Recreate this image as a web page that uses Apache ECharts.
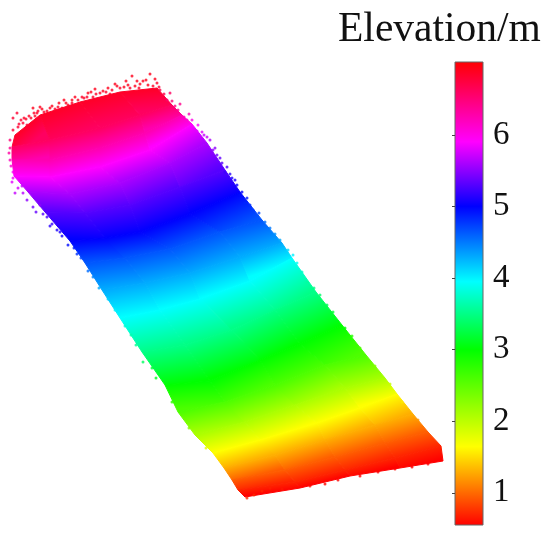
<!DOCTYPE html>
<html>
<head>
<meta charset="utf-8">
<style>
  html, body { margin: 0; padding: 0; background: #fff; }
  #main { width: 550px; height: 535px; filter: blur(0.6px); }
</style>
</head>
<body>
<div id="main"></div>
<script src="https://cdn.jsdelivr.net/npm/echarts@6/dist/echarts.min.js"></script>
<script>
// elevation of each contour read across the strip, top of the strip first
var levels = [6.85, 6.6, 6.25, 5.9, 5.6, 5.3, 5.0, 4.65, 4.3, 3.95, 3.5, 3.0, 2.6, 2.1, 1.65, 1.3, 0.95, 0.7, 0.55]
// contour positions, five stations from left edge to right edge
var stationA = [[15,135],[12,147],[12,160],[14,176],[28,192],[45,212],[70,241],[85,263],[102,290],[120,318],[142,352],[165,385],[178,412],[195,435],[213,453],[224,468],[232,480],[238,490],[245,497]]
var stationB = [[40,115],[50,140],[50,160],[50,177],[70,194],[85,213],[105,238],[125,258],[145,283],[160,310],[185,345],[210,381],[225,402],[245,422],[260,440],[275,455],[285,470],[295,482],[300,488]]
var stationC = [[80,102],[100,128],[100,148],[100,167],[120,183],[130,205],[140,232],[170,249],[190,273],[200,299],[232,330],[260,360],[275,385],[295,405],[317,423],[325,440],[335,457],[345,470],[350,476]]
var stationD = [[120,92],[140,115],[145,133],[150,150],[170,163],[180,187],[190,214],[220,232],[240,257],[250,281],[275,310],[300,344],[325,365],[345,388],[360,408],[375,425],[385,443],[395,458],[400,468]]
var stationE = [[157,88],[172,105],[182,115],[192,124],[207,143],[225,170],[240,192],[262,220],[282,243],[292,258],[316,292],[342,325],[366,355],[385,378],[397,394],[413,414],[428,432],[441,446],[443,461]]

// loose points along the rim: x, y, elevation
var rimTop = [[132,76,6.9],[150,74,6.9],[137,81,6.9],[143,81,6.9],[126,81,6.9],[157,83,6.85],[117,86,6.9],[108,88,6.9],[124,87,6.9],[135,86,6.9],[148,85,6.9],[95,89,6.9],[88,93,6.9],[100,93,6.85],[82,97,6.85],[72,100,6.9],[66,103,6.9],[59,103,6.9],[62,108,6.85],[40,107,6.9],[50,108,6.9],[33,108,6.9],[44,112,6.85],[37,113,6.85],[29,116,6.85],[24,118,6.85],[17,113,6.8],[13,118,6.8],[23,123,6.8],[13,130,6.8],[18,127,6.8],[27,125,6.8],
  [19,124,6.8],[21,120,6.8],[26,119,6.85],[31,118,6.85],[34,113,6.85],[38,111,6.85],[42,109,6.9],[47,111,6.85],[52,106,6.9],[55,109,6.85],[58,107,6.85],[64,100,6.9],[68,105,6.85],[75,97,6.9],[78,100,6.85],[84,98,6.85],[87,97,6.85],[91,92,6.9],[96,94,6.85],[103,91,6.9],[106,92,6.85],[112,90,6.85],[115,84,6.9],[120,88,6.85],[128,85,6.9],[130,88,6.85],[140,84,6.9],[146,80,6.9],[153,86,6.85],[155,79,6.9],[159,87,6.8],[35,116,6.85],[48,114,6.85],[72,103,6.85],[93,97,6.85],[110,94,6.85],[139,88,6.85]]
var rimRight = [[160,90,6.7],[164,94,6.7],[170,93,6.6],[172,101,6.5],[180,104,6.4],[178,110,6.4],[189,114,6.2],[187,120,6.1],[198,125,5.9],[197,131,5.8],[204,135,5.7],[210,140,5.6],[213,150,5.5],[217,155,5.4],[222,163,5.3],[227,167,5.25],[232,178,5.1],[237,185,5.05],[242,192,5],[247,198,4.9],[253,210,4.75],[259,213,4.7],[270,228,4.5],[280,240,4.3],[297,263,3.9],[307,282,3.6],[320,295,3.4],[333,312,3.2],[352,336,2.8],
  [167,100,6.55],[175,106,6.45],[184,117,6.2],[192,120,6.0],[202,132,5.8],[207,137,5.7],[215,148,5.5],[220,158,5.35],[225,172,5.2],[230,174,5.15],[235,180,5.1],[240,195,4.95],[245,203,4.85],[250,205,4.8],[265,222,4.55],[275,234,4.4],[288,250,4.1],[293,255,4.0],[302,272,3.75],[314,288,3.5],[327,305,3.3],[345,328,3.0],[360,348,2.6],[375,366,2.3],[390,384,1.95],[402,402,1.55],[418,420,1.2]]
var rimLeft = [[10,140,6.5],[9,153,6.3],[11,166,6.1],[13,172,5.95],[12,182,5.8],[15,193,5.7],[23,193,5.65],[22,186,5.7],[33,207,5.4],[40,205,5.5],[47,217,5.25],[52,224,5.2],[57,230,5.1],[62,236,5.05],[68,245,4.95],[74,248,4.9],[81,258,4.7],[93,277,4.45],[108,299,4.15],[125,326,3.8],[136,345,3.55],[143,362,3.35],[156,378,3.1],
  [10,148,6.4],[10,160,6.2],[13,178,5.85],[18,188,5.75],[27,200,5.5],[36,212,5.35],[43,214,5.3],[50,226,5.15],[60,232,5.1],[77,254,4.8],[88,271,4.55],[99,288,4.3],[115,310,4.0],[131,335,3.65],[152,368,3.2],[172,402,2.75],[189,428,2.3],[206,448,1.8]]
var rimBottom = [[247,498,0.75],[254,495,0.72],[262,491,0.7],[270,488,0.68],[282,489,0.65],[291,487,0.62],[310,486,0.6],[325,484,0.58],[338,480,0.56],[360,476,0.56],[378,472,0.55],[395,469,0.55],[412,467,0.55],[428,464,0.55]]

// colour stops of the scale: elevation and colour
var stopElevations = [0.55, 1.65, 3.0, 3.95, 5.0, 5.9, 7.02]
var stopColors = ['#ff0000', '#ffff00', '#00ff00', '#00ffff', '#0000ff', '#ff00ff', '#ff0000']

var scaleMin = 0.55
var scaleMax = 7.02
var tickValues = [1, 2, 3, 4, 5, 6]
var titleText = 'Elevation/m'

function hexToRgb(hex) {
  return [parseInt(hex.slice(1, 3), 16), parseInt(hex.slice(3, 5), 16), parseInt(hex.slice(5, 7), 16)]
}

function elevColor(v) {
  for (var i = 0; i < stopElevations.length - 1; i++) {
    if (v <= stopElevations[i + 1] || i === stopElevations.length - 2) {
      var t = (v - stopElevations[i]) / (stopElevations[i + 1] - stopElevations[i])
      t = Math.max(0, Math.min(1, t))
      var a = hexToRgb(stopColors[i])
      var b = hexToRgb(stopColors[i + 1])
      return 'rgb(' + Math.round(a[0] + (b[0] - a[0]) * t) + ',' + Math.round(a[1] + (b[1] - a[1]) * t) + ',' + Math.round(a[2] + (b[2] - a[2]) * t) + ')'
    }
  }
}

// one quad per strip and station gap
var stations = [stationA, stationB, stationC, stationD, stationE]
var quads = []
for (var r = 0; r < levels.length - 1; r++) {
  for (var c = 0; c < stations.length - 1; c++) {
    var p0 = stations[c][r]
    var p1 = stations[c + 1][r]
    var p2 = stations[c + 1][r + 1]
    var p3 = stations[c][r + 1]
    quads.push([p0[0], p0[1], p1[0], p1[1], p2[0], p2[1], p3[0], p3[1], levels[r], levels[r + 1]])
  }
}

function renderQuad(params, api) {
  var p0 = api.coord([api.value(0), api.value(1)])
  var p1 = api.coord([api.value(2), api.value(3)])
  var p2 = api.coord([api.value(4), api.value(5)])
  var p3 = api.coord([api.value(6), api.value(7)])
  // gradient runs square to the upper contour of the quad
  var mx = (p0[0] + p1[0]) / 2
  var my = (p0[1] + p1[1]) / 2
  var qx = (p2[0] + p3[0]) / 2
  var qy = (p2[1] + p3[1]) / 2
  var ex = p1[0] - p0[0]
  var ey = p1[1] - p0[1]
  var len = Math.sqrt(ex * ex + ey * ey)
  var nx = -ey / len
  var ny = ex / len
  var d = (qx - mx) * nx + (qy - my) * ny
  var fill = new echarts.graphic.LinearGradient(mx, my, mx + nx * d, my + ny * d, [
    { offset: 0, color: elevColor(api.value(8)) },
    { offset: 1, color: elevColor(api.value(9)) }
  ], true)
  return {
    type: 'polygon',
    shape: { points: [p0, p1, p2, p3] },
    style: { fill: fill, stroke: fill, lineWidth: 1 }
  }
}

function renderBar(params, api) {
  var top = api.coord([0, api.value(1)])
  var bottom = api.coord([1, api.value(0)])
  var colorStops = stopElevations.map(function (v, i) {
    return { offset: (scaleMax - v) / (scaleMax - scaleMin), color: stopColors[i] }
  }).reverse()
  return {
    type: 'rect',
    shape: { x: top[0], y: top[1], width: bottom[0] - top[0], height: bottom[1] - top[1] },
    style: {
      fill: new echarts.graphic.LinearGradient(0, 0, 0, 1, colorStops),
      stroke: '#666',
      lineWidth: 1
    }
  }
}

var chart = echarts.init(document.getElementById('main'))
chart.setOption({
  backgroundColor: '#fff',
  animation: false,
  title: {
    text: titleText,
    left: 333,
    top: 4,
    textStyle: { fontFamily: 'Liberation Serif', fontSize: 41.5, fontWeight: 'normal', color: '#111' }
  },
  grid: [
    { left: 0, top: 0, width: 550, height: 535 },
    { left: 455, top: 62, width: 28, height: 463 }
  ],
  xAxis: [
    { type: 'value', gridIndex: 0, min: 0, max: 550, show: false },
    { type: 'value', gridIndex: 1, min: 0, max: 1, show: false }
  ],
  yAxis: [
    { type: 'value', gridIndex: 0, min: 0, max: 535, inverse: true, show: false },
    {
      type: 'value',
      gridIndex: 1,
      min: scaleMin,
      max: scaleMax,
      position: 'right',
      z: 5,
      axisLine: { show: false },
      splitLine: { show: false },
      axisTick: { show: true, inside: true, length: 3, customValues: tickValues, lineStyle: { color: '#444', width: 1 } },
      axisLabel: {
        show: true,
        customValues: tickValues,
        margin: 10,
        fontFamily: 'Liberation Serif',
        fontSize: 33,
        color: '#111'
      }
    }
  ],
  series: [
    {
      type: 'custom',
      coordinateSystem: 'cartesian2d',
      xAxisIndex: 0,
      yAxisIndex: 0,
      renderItem: renderQuad,
      clip: false,
      data: quads
    },
    {
      type: 'scatter',
      xAxisIndex: 0,
      yAxisIndex: 0,
      symbolSize: 3,
      data: rimTop.concat(rimRight, rimLeft, rimBottom),
      itemStyle: {
        opacity: 0.8,
        color: function (p) { return elevColor(p.value[2]) }
      }
    },
    {
      type: 'custom',
      coordinateSystem: 'cartesian2d',
      xAxisIndex: 1,
      yAxisIndex: 1,
      renderItem: renderBar,
      clip: false,
      encode: { x: [], y: [0, 1] },
      data: [[scaleMin, scaleMax]]
    }
  ]
})
</script>
</body>
</html>
